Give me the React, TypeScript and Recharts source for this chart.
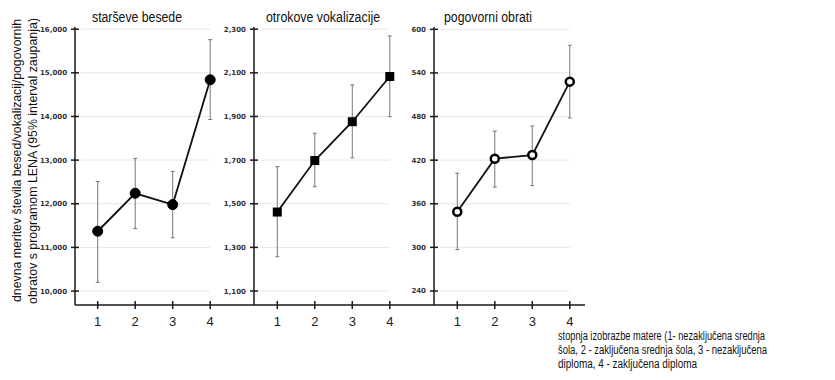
import { ErrorBar, Line, LineChart, ReferenceLine, XAxis, YAxis } from "recharts";

// stopnja izobrazbe matere 1..4
const categories = [1, 2, 3, 4];

// starševe besede
const parentWords = [11370, 12240, 11980, 14840];
const parentWordsLow = [10200, 11430, 11220, 13930];
const parentWordsHigh = [12510, 13040, 12740, 15760];
const parentTicks = [10000, 11000, 12000, 13000, 14000, 15000, 16000];

// otrokove vokalizacije
const childVocal = [1462, 1698, 1876, 2083];
const childVocalLow = [1257, 1578, 1710, 1899];
const childVocalHigh = [1670, 1823, 2045, 2269];
const childTicks = [1100, 1300, 1500, 1700, 1900, 2100, 2300];

// pogovorni obrati
const turns = [349, 422, 427, 528];
const turnsLow = [297, 383, 385, 478];
const turnsHigh = [402, 460, 467, 578];
const turnsTicks = [240, 300, 360, 420, 480, 540, 600];

const captionLines = [
  "stopnja izobrazbe matere (1- nezaključena srednja",
  "šola, 2 - zaključena srednja šola, 3 - nezaključena",
  "diploma, 4 - zaključena diploma",
];
// širine vrstic v referenci (pisava je ozka)
const captionWidths = [207, 209, 139];

const FONT = "'Liberation Sans', Arial, sans-serif";
const AXIS = "#1a1a1a";

const rows = (v: number[], lo: number[], hi: number[]) =>
  categories.map((c, i) => ({ x: c, value: v[i], err: [v[i] - lo[i], hi[i] - v[i]] }));

const fmt = (n: number) => n.toLocaleString("en-US");

const YTick = (props: any) => {
  const { x, y, payload } = props;
  return (
    <g>
      <line x1={x - 4} x2={x + 4} y1={y} y2={y} stroke={AXIS} strokeWidth={1.5} />
      <text x={x - 8} y={y} dy={2.5} textAnchor="end" fontSize={7} fontWeight="bold" fill="#333" fontFamily="'DejaVu Sans', Verdana, sans-serif">
        {fmt(payload.value)}
      </text>
    </g>
  );
};

const XTick = (props: any) => {
  const { x, y, payload } = props;
  return (
    <g>
      <line x1={x} x2={x} y1={y - 4} y2={y + 4} stroke={AXIS} strokeWidth={1.5} />
      <text x={x} y={y} dy={21} textAnchor="middle" fontSize={13} fill="#222" fontFamily={FONT}>
        {payload.value}
      </text>
    </g>
  );
};

const SquareDot = (props: any) => {
  const { cx, cy, index } = props;
  return <rect key={index} x={cx - 4.5} y={cy - 4.5} width={9} height={9} fill="#000" />;
};

type PanelProps = {
  left: number;
  width: number;
  yWidth: number;
  data: { x: number; value: number; err: number[] }[];
  ticks: number[];
  yDomain: [number, number];
  xDomain: [number, number];
  dot: any;
};

function Panel({ left, width, yWidth, data, ticks, yDomain, xDomain, dot }: PanelProps) {
  return (
    <div style={{ position: "absolute", left, top: 0 }}>
      <LineChart width={width} height={340} data={data} margin={{ top: 27, right: 0, bottom: 0, left: 0 }}>
        <XAxis
          dataKey="x"
          type="number"
          domain={xDomain}
          ticks={categories}
          height={35}
          tickSize={0}
          tickMargin={0}
          tickLine={false}
          tick={<XTick />}
          axisLine={{ stroke: AXIS, strokeWidth: 1.5 }}
          allowDataOverflow
        />
        <YAxis
          type="number"
          domain={yDomain}
          ticks={ticks}
          width={yWidth}
          tickSize={0}
          tickMargin={0}
          tickLine={false}
          tick={<YTick />}
          axisLine={{ stroke: AXIS, strokeWidth: 1.5 }}
          allowDataOverflow
        />
        {ticks.map((t) => (
          <ReferenceLine
            key={t}
            segment={[
              { x: xDomain[0] + 0.15, y: t },
              { x: 4, y: t },
            ]}
            stroke="#e6e6e6"
            strokeWidth={1}
          />
        ))}
        <Line
          type="linear"
          dataKey="value"
          stroke="#111"
          strokeWidth={1.8}
          dot={dot}
          activeDot={false}
          isAnimationActive={false}
        >
          <ErrorBar dataKey="err" direction="y" width={2} stroke="#777" strokeWidth={1} />
        </Line>
      </LineChart>
    </div>
  );
}

export default function App() {
  return (
    <div style={{ position: "absolute", left: 0, top: 0, width: 835, height: 380, background: "#fff", overflow: "hidden" }}>
      <Panel
        left={0}
        width={254}
        yWidth={75}
        data={rows(parentWords, parentWordsLow, parentWordsHigh)}
        ticks={parentTicks}
        yDomain={[9680, 16050]}
        xDomain={[0.395, 5.168]}
        dot={{ r: 5, fill: "#000", stroke: "#000", strokeWidth: 1 }}
      />
      <Panel
        left={194}
        width={240}
        yWidth={60}
        data={rows(childVocal, childVocalLow, childVocalHigh)}
        ticks={childTicks}
        yDomain={[1036, 2310]}
        xDomain={[0.379, 5.179]}
        dot={<SquareDot />}
      />
      <Panel
        left={374}
        width={211}
        yWidth={60}
        data={rows(turns, turnsLow, turnsHigh)}
        ticks={turnsTicks}
        yDomain={[220.7, 603.2]}
        xDomain={[0.379, 4.406]}
        dot={{ r: 4, fill: "#fff", stroke: "#000", strokeWidth: 2.5 }}
      />
      <svg width={835} height={380} style={{ position: "absolute", left: 0, top: 0, pointerEvents: "none" }}>
        <g fontFamily={FONT} fill="#111">
          <text x={92} y={22} fontSize={14} textLength={90} lengthAdjust="spacingAndGlyphs">starševe besede</text>
          <text x={266} y={22} fontSize={14} textLength={114} lengthAdjust="spacingAndGlyphs">otrokove vokalizacije</text>
          <text x={444} y={22} fontSize={14} textLength={88} lengthAdjust="spacingAndGlyphs">pogovorni obrati</text>
          <text transform="translate(21,302) rotate(-90)" fontSize={13} textLength={283} lengthAdjust="spacingAndGlyphs">
            dnevna meritev števila besed/vokalizacij/pogovornih
          </text>
          <text transform="translate(37,304) rotate(-90)" fontSize={13} textLength={286} lengthAdjust="spacingAndGlyphs">
            obratov s programom LENA (95% interval zaupanja)
          </text>
          {captionLines.map((l, i) => (
            <text key={i} x={558} y={340 + i * 14} fontSize={12} textLength={captionWidths[i]} lengthAdjust="spacingAndGlyphs">
              {l}
            </text>
          ))}
        </g>
      </svg>
    </div>
  );
}
